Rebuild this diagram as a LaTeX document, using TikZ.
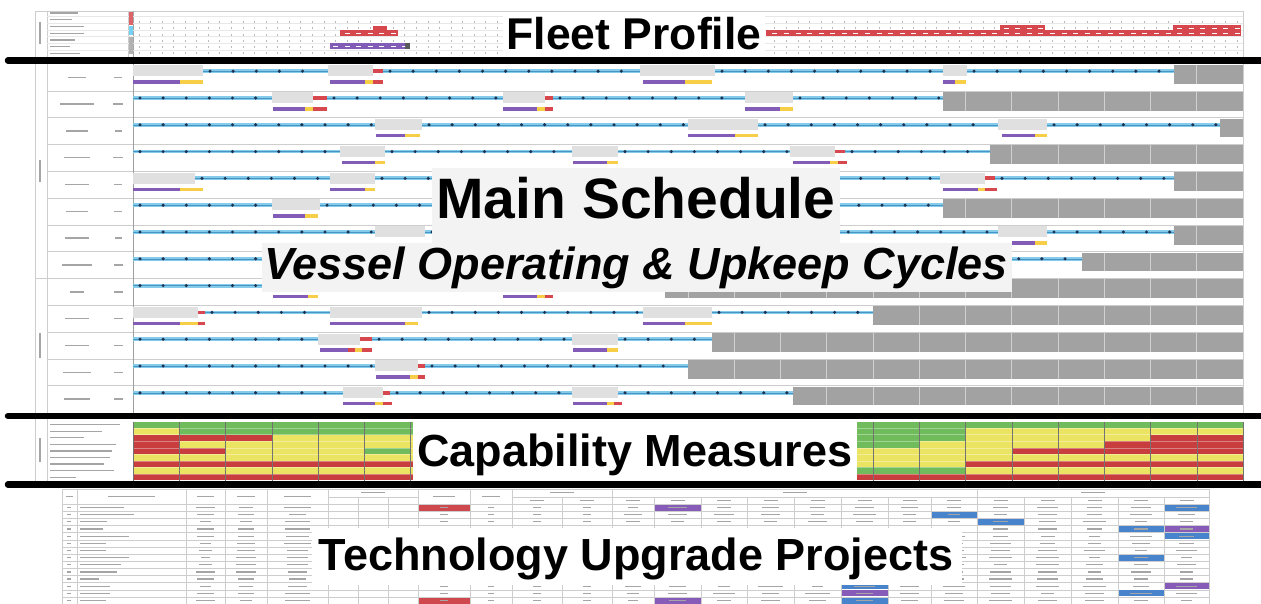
\documentclass[tikz,border=0pt]{standalone}
\usepackage{fontspec}
\setmainfont{Liberation Sans}

% palette
\definecolor{opblue}{RGB}{135,203,234}
\definecolor{opline}{RGB}{70,150,200}
\definecolor{opdot}{RGB}{30,50,80}
\definecolor{mntgray}{RGB}{224,224,224}
\definecolor{decom}{RGB}{162,162,162}
\definecolor{upp}{RGB}{130,92,182}
\definecolor{upy}{RGB}{246,206,72}
\definecolor{upr}{RGB}{214,72,78}
\definecolor{capg}{RGB}{112,188,92}
\definecolor{capy}{RGB}{234,228,98}
\definecolor{capr}{RGB}{200,62,62}
\definecolor{cellblue}{RGB}{72,132,204}
\definecolor{cellpurple}{RGB}{134,92,184}
\definecolor{cellred}{RGB}{206,72,78}
\definecolor{ink}{RGB}{165,165,165}
\definecolor{rule}{RGB}{205,205,205}
\definecolor{boxbg}{RGB}{243,243,243}

% operating period: blue band with dots (row top, x from, x to)
\newcommand\opseg[3]{%
  \fill[opblue] (#2,#1+5.3) rectangle (#3,#1+9.1);
  \draw[opline,line width=0.5pt] (#2,#1+7.2) -- (#3,#1+7.2);
  \pgfmathtruncatemacro\nd{(#3-#2-10)/23.125}%
  \ifnum\nd>-1
    \foreach \kk in {0,...,\nd}{\fill[opdot] ({#2+7+23.125*\kk},#1+7.2) circle (1.7);}%
  \fi}
% maintenance window
\newcommand\mntseg[3]{\fill[mntgray] (#2,#1+1.5) rectangle (#3,#1+12.5);}
% red marker on the operating line
\newcommand\redtop[3]{\fill[upr] (#2,#1+5.3) rectangle (#3,#1+9.1);}
% upkeep bar in the lower half of a row
\newcommand\lowbar[4]{\fill[#4] (#2,#1+16.4) rectangle (#3,#1+19.8);}
% out of service to the end of the horizon
\newcommand\retired[2]{%
  \fill[decom] (#2,#1+1) rectangle (1243,#1+19.8);
  \foreach \kk in {1,...,23}{%
    \pgfmathsetmacro\gx{133+46.25*\kk}%
    \ifdim\gx pt>#2pt
      \draw[white,opacity=0.5,line width=0.7pt] (\gx,#1+1) -- (\gx,#1+19.8);
    \fi}}
% coloured cell of the project table (row, x from, x to, colour)
\newcommand\tcell[4]{\fill[#4] (#2+0.5,{504+7.15*(#1-1)+0.6}) rectangle (#3-0.5,{504+7.15*#1-0.6});}

\begin{document}
\begin{tikzpicture}[x=1pt,y=-1pt,
  heading/.style={inner sep=0pt, anchor=base, text=black},
  divider/.style={line width=6.5pt, line cap=round, black}]
\useasboundingbox (0,0) rectangle (1261,604);
\fill[white] (0,0) rectangle (1261,604);

%% ---------------- fleet profile ----------------
\draw[rule] (35,11) rectangle (1243,58);
\draw[rule] (47,11) -- (47,58);
\draw[rule] (128,11) -- (128,58);
\draw[gray!70] (133,11) -- (133,58);
\foreach \yy in {16,23,30,36.6,43.3,50}{\draw[gray!18] (47,\yy) -- (1243,\yy);}
\foreach \yy/\w in {12.9/28,19.5/22,26.7/34,33.3/34,40/25,46.7/20,53.3/30}
  {\fill[ink] (50,\yy-0.7) rectangle (50+\w,\yy+0.7);}
\fill[ink] (39.3,22) rectangle (40.8,44);
\fill[upr!85] (128.6,12) rectangle (132.6,25);
\fill[cyan!55] (128.6,26.5) rectangle (132.6,35.5);
\fill[gray!60] (128.6,37) rectangle (132.6,54);
\foreach \kk in {0,...,95}{%
  \pgfmathsetmacro\tx{139+11.5625*\kk}%
  \foreach \ty in {22,28.5,35,41.5,47.5,53}{\fill[gray!55] (\tx-0.5,\ty-1) rectangle (\tx+0.5,\ty+1);}}
\fill[upr] (340,30.5) rectangle (398,36.5);
\fill[upr] (373,26) rectangle (387,31);
\fill[upr] (766,30.5) rectangle (1241,36.5);
\fill[upr] (1000,25.5) rectangle (1045,31);
\fill[upr] (1173,25.5) rectangle (1241,31);
\fill[upp] (330,43) rectangle (410,49);
\fill[gray!70!black] (405,43) rectangle (410,49);
\begin{scope}
  \clip (340,30.5) rectangle (398,36.5) (766,30.5) rectangle (1241,36.5)
        (1000,25.5) rectangle (1045,30.5) (1173,25.5) rectangle (1241,30.5)
        (330,43) rectangle (405,49);
  \foreach \kk in {0,...,95}{%
    \pgfmathsetmacro\tx{139+11.5625*\kk}%
    \draw[white,line width=0.9pt] (\tx-2.5,33.5) -- (\tx+2.5,33.5) (\tx-2.5,28) -- (\tx+2.5,28)
      (\tx-2.5,46) -- (\tx+2.5,46);}
\end{scope}
\fill[white] (503,13) rectangle (765,56);
\node[heading, font=\bfseries\fontsize{44.5}{48}\selectfont] (fleet) at (634,50) {Fleet Profile};

%% ---------------- main schedule ----------------
\draw[rule] (35,64) -- (35,413);
\draw[rule] (47,64) -- (47,413);
\draw[rule] (1243,64) -- (1243,413);
\foreach \rt in {90.8,117.6,144.4,171.2,198,224.8,251.6,305.2,332,358.8,385.6}
  {\draw[rule] (47,\rt) -- (1243,\rt);}
\draw[rule] (35,278.4) -- (1243,278.4);
\draw[gray!75] (133,64) -- (133,413);
\fill[ink] (39.3,160) rectangle (40.8,182);
\fill[ink] (39.3,333) rectangle (40.8,358);
\foreach \rt/\w/\c in {64/18/8,90.8/34/10,117.6/22/7,144.4/26/10,171.2/24/8,198/22/8,224.8/24/7,
  251.6/30/9,278.4/14/9,305.2/24/9,332/24/9,358.8/28/9,385.6/26/9}
  {\fill[ink] (77-\w/2,\rt+12.7) rectangle (77+\w/2,\rt+14.1);
   \fill[ink] (118-\c/2,\rt+12.7) rectangle (118+\c/2,\rt+14.1);}

% row 1
\mntseg{64}{133}{203}\opseg{64}{203}{328}\mntseg{64}{328}{373}\redtop{64}{373}{383}
\opseg{64}{383}{640}\mntseg{64}{640}{715}\opseg{64}{715}{943}\mntseg{64}{943}{967}\opseg{64}{967}{1174}
\lowbar{64}{133}{180}{upp}\lowbar{64}{180}{203}{upy}\lowbar{64}{330}{365}{upp}\lowbar{64}{365}{373}{upy}
\lowbar{64}{373}{383}{upr}\lowbar{64}{643}{685}{upp}\lowbar{64}{685}{712}{upy}\lowbar{64}{943}{955}{upp}
\lowbar{64}{955}{966}{upy}
\retired{64}{1174}
% row 2
\opseg{90.8}{133}{272}\mntseg{90.8}{272}{313}\redtop{90.8}{313}{327}\opseg{90.8}{327}{503}
\mntseg{90.8}{503}{545}\redtop{90.8}{545}{553}\opseg{90.8}{553}{745}\mntseg{90.8}{745}{793}\opseg{90.8}{793}{943}
\lowbar{90.8}{273}{305}{upp}\lowbar{90.8}{305}{313}{upy}\lowbar{90.8}{313}{327}{upr}\lowbar{90.8}{503}{537}{upp}
\lowbar{90.8}{537}{545}{upy}\lowbar{90.8}{545}{553}{upr}\lowbar{90.8}{745}{780}{upp}\lowbar{90.8}{780}{793}{upy}
\retired{90.8}{943}
% row 3
\opseg{117.6}{133}{375}\mntseg{117.6}{375}{422}\opseg{117.6}{422}{688}\mntseg{117.6}{688}{758}
\opseg{117.6}{758}{998}\mntseg{117.6}{998}{1047}\opseg{117.6}{1047}{1220}
\lowbar{117.6}{376}{405}{upp}\lowbar{117.6}{405}{420}{upy}\lowbar{117.6}{688}{735}{upp}\lowbar{117.6}{735}{758}{upy}
\lowbar{117.6}{1002}{1035}{upp}\lowbar{117.6}{1035}{1047}{upy}
\retired{117.6}{1220}
% row 4
\opseg{144.4}{133}{340}\mntseg{144.4}{340}{385}\opseg{144.4}{385}{572}\mntseg{144.4}{572}{618}
\opseg{144.4}{618}{790}\mntseg{144.4}{790}{835}\redtop{144.4}{835}{845}\opseg{144.4}{845}{990}
\lowbar{144.4}{342}{375}{upp}\lowbar{144.4}{375}{385}{upy}\lowbar{144.4}{573}{607}{upp}\lowbar{144.4}{607}{618}{upy}
\lowbar{144.4}{793}{830}{upp}\lowbar{144.4}{830}{838}{upy}\lowbar{144.4}{838}{847}{upr}
\retired{144.4}{990}
% row 5
\mntseg{171.2}{133}{195}\opseg{171.2}{195}{330}\mntseg{171.2}{330}{375}\opseg{171.2}{375}{640}
\mntseg{171.2}{640}{715}\opseg{171.2}{715}{940}\mntseg{171.2}{940}{985}\redtop{171.2}{985}{995}\opseg{171.2}{995}{1174}
\lowbar{171.2}{133}{180}{upp}\lowbar{171.2}{180}{203}{upy}\lowbar{171.2}{330}{365}{upp}\lowbar{171.2}{365}{375}{upy}
\lowbar{171.2}{943}{978}{upp}\lowbar{171.2}{978}{985}{upy}\lowbar{171.2}{985}{997}{upr}
\retired{171.2}{1174}
% row 6
\opseg{198}{133}{272}\mntseg{198}{272}{320}\opseg{198}{320}{943}
\lowbar{198}{273}{305}{upp}\lowbar{198}{305}{318}{upy}
\retired{198}{943}
% row 7
\opseg{224.8}{133}{375}\mntseg{224.8}{375}{425}\opseg{224.8}{425}{998}\mntseg{224.8}{998}{1047}\opseg{224.8}{1047}{1174}
\lowbar{224.8}{1012}{1035}{upp}\lowbar{224.8}{1035}{1047}{upy}
\retired{224.8}{1174}
% row 8
\opseg{251.6}{133}{1082}
\retired{251.6}{1082}
% row 9
\opseg{278.4}{133}{650}
\lowbar{278.4}{273}{308}{upp}\lowbar{278.4}{308}{318}{upy}\lowbar{278.4}{503}{537}{upp}
\lowbar{278.4}{537}{545}{upy}\lowbar{278.4}{545}{553}{upr}
\retired{278.4}{665}
% row 10
\mntseg{305.2}{133}{198}\redtop{305.2}{198}{205}\opseg{305.2}{205}{330}\mntseg{305.2}{330}{422}
\opseg{305.2}{422}{643}\mntseg{305.2}{643}{712}\opseg{305.2}{712}{873}
\lowbar{305.2}{133}{180}{upp}\lowbar{305.2}{180}{198}{upy}\lowbar{305.2}{198}{205}{upr}\lowbar{305.2}{330}{405}{upp}
\lowbar{305.2}{405}{418}{upy}\lowbar{305.2}{643}{685}{upp}\lowbar{305.2}{685}{712}{upy}
\retired{305.2}{873}
% row 11
\opseg{332}{133}{318}\mntseg{332}{318}{360}\redtop{332}{360}{372}\opseg{332}{372}{572}
\mntseg{332}{572}{618}\opseg{332}{618}{712}
\lowbar{332}{320}{348}{upp}\lowbar{332}{348}{355}{upr}\lowbar{332}{355}{362}{upy}\lowbar{332}{362}{372}{upr}
\lowbar{332}{573}{607}{upp}\lowbar{332}{607}{618}{upy}
\retired{332}{712}
% row 12
\opseg{358.8}{133}{375}\mntseg{358.8}{375}{418}\redtop{358.8}{418}{425}\opseg{358.8}{425}{688}
\lowbar{358.8}{376}{410}{upp}\lowbar{358.8}{410}{418}{upy}\lowbar{358.8}{418}{425}{upr}
\retired{358.8}{688}
% row 13
\opseg{385.6}{133}{343}\mntseg{385.6}{343}{383}\redtop{385.6}{383}{390}\opseg{385.6}{390}{572}
\mntseg{385.6}{572}{618}\opseg{385.6}{618}{793}
\lowbar{385.6}{343}{375}{upp}\lowbar{385.6}{375}{383}{upy}\lowbar{385.6}{383}{392}{upr}
\lowbar{385.6}{573}{607}{upp}\lowbar{385.6}{607}{614}{upy}\lowbar{385.6}{614}{622}{upr}
\retired{385.6}{793}

\fill[boxbg] (432,168) rectangle (840,243);
\fill[boxbg] (262,243) rectangle (1012,292);
\node[heading, font=\bfseries\fontsize{57}{60}\selectfont] (main) at (636,219) {Main Schedule};
\node[heading, font=\bfseries\itshape\fontsize{45}{48}\selectfont] (cycles) at (636,279) {Vessel Operating \& Upkeep Cycles};

%% ---------------- capability measures ----------------
\draw[rule] (35,419) -- (35,481);
\draw[rule] (47,419) -- (47,481);
\fill[ink] (39.3,438) rectangle (40.8,462);
\foreach \cr/\w in {1/70,2/52,3/34,4/66,5/62,6/60,7/54,8/64,9/26}
  {\fill[ink] (50,{421.5+6.55*(\cr-0.5)-0.6}) rectangle (50+\w,{421.5+6.55*(\cr-0.5)+0.6});}
\foreach \row [count=\cr] in {
  {g,g,g,g,g,g,g,g,g,g,g,g,g,g,g,g,g,g,g,g,g,g,g,g},
  {y,g,g,g,g,g,g,g,g,g,g,g,g,g,g,g,g,g,y,y,y,y,y,y},
  {r,r,r,y,y,y,y,y,y,y,y,y,y,y,y,g,g,g,y,y,y,y,r,r},
  {r,y,y,y,y,y,y,y,y,y,y,y,y,y,y,g,g,y,y,y,y,r,r,r},
  {r,r,y,y,y,g,y,y,y,y,y,y,y,y,y,y,y,y,y,r,r,r,r,r},
  {y,y,y,y,y,y,y,y,y,y,y,y,y,y,y,y,y,y,y,y,y,y,y,y},
  {r,r,r,r,r,r,r,r,r,r,r,r,r,r,r,y,y,y,r,r,r,r,r,r},
  {y,y,y,y,y,y,y,y,y,y,y,y,y,y,y,g,g,g,y,y,y,y,y,y},
  {r,r,r,r,r,r,r,r,r,r,r,r,r,r,r,r,r,r,r,r,r,r,r,r}}{%
  \foreach \cc [count=\ci] in \row{%
    \fill[cap\cc] ({133+46.25*(\ci-1)},{421.5+6.55*(\cr-1)}) rectangle ({133+46.25*\ci},{421.5+6.55*\cr});}}
\foreach \cr in {1,...,8}{\draw[white,opacity=0.35,line width=0.4pt] (133,{421.5+6.55*\cr}) -- (1243,{421.5+6.55*\cr});}
\foreach \kk in {0,...,24}{\draw[black!55,line width=0.4pt] ({133+46.25*\kk},421.5) -- ({133+46.25*\kk},480.5);}
\fill[white] (413,420) rectangle (857,481);
\node[heading, font=\bfseries\fontsize{45}{48}\selectfont] (capability) at (635,466) {Capability Measures};

%% ---------------- technology upgrade projects ----------------
\foreach \xx in {62,77,186,225,267,328,418,470,512,612,977,1209}{\draw[rule] (\xx,489) -- (\xx,604);}
\foreach \xx in {358,388,562,654,701,747,794,841,888,931,1024,1071,1118,1164}{\draw[rule] (\xx,497) -- (\xx,604);}
\draw[rule] (62,489) -- (1209,489);
\draw[rule] (328,497) -- (418,497) (512,497) -- (1209,497);
\foreach \kk in {0,...,13}{\draw[rule] (62,{504+7.15*\kk}) -- (1209,{504+7.15*\kk});}
% header captions
\foreach \xa/\xb in {62/77,77/186,186/225,225/267,267/328,418/470,470/512}
  {\fill[ink] ({(\xa+\xb)/2-(\xb-\xa)*0.22},495.8) rectangle ({(\xa+\xb)/2+(\xb-\xa)*0.22},497.2);}
\foreach \xa/\xb in {328/418,512/612,612/977,977/1209}
  {\fill[ink] ({(\xa+\xb)/2-12},492.2) rectangle ({(\xa+\xb)/2+12},493.4);}
\foreach \xa/\xb in {512/562,562/612,612/654,654/701,701/747,747/794,794/841,841/888,888/931,931/977,977/1024,1024/1071,1071/1118,1118/1164,1164/1209}
  {\fill[ink] ({(\xa+\xb)/2-7},500.2) rectangle ({(\xa+\xb)/2+7},501.4);}
% coloured cells
\tcell{1}{418}{470}{cellred}\tcell{1}{654}{701}{cellpurple}\tcell{1}{1164}{1209}{cellblue}
\tcell{2}{931}{977}{cellblue}
\tcell{3}{977}{1024}{cellblue}
\tcell{4}{1118}{1164}{cellblue}\tcell{4}{1164}{1209}{cellpurple}
\tcell{5}{1164}{1209}{cellblue}
\tcell{8}{1118}{1164}{cellblue}
\tcell{11}{841}{888}{cellblue}\tcell{12}{841}{888}{cellblue}\tcell{13}{841}{888}{cellpurple}\tcell{14}{841}{888}{cellblue}
\tcell{12}{1164}{1209}{cellpurple}\tcell{13}{1118}{1164}{cellblue}
\tcell{14}{654}{701}{cellpurple}\tcell{14}{418}{470}{cellred}
% cell entries
\pgfmathsetseed{11}
\foreach \rr in {1,...,14}{%
  \pgfmathsetmacro\ry{504+7.15*\rr-3.6}%
  \fill[ink] (67,\ry-0.6) rectangle (71,\ry+0.6);
  \pgfmathsetmacro\nw{18+40*rnd}%
  \fill[ink] (80,\ry-0.6) rectangle (80+\nw,\ry+0.6);
  \foreach \xa/\xb in {186/225,225/267,267/328,612/654,654/701,701/747,747/794,794/841,841/888,888/931,931/977,977/1024,1024/1071,1071/1118,1118/1164,1164/1209}{%
    \pgfmathsetmacro\hw{(\xb-\xa)*(0.12+0.14*rnd)}%
    \fill[ink] ({(\xa+\xb)/2-\hw},\ry-0.6) rectangle ({(\xa+\xb)/2+\hw},\ry+0.6);}
  \ifnum\rr<4 \def\sparse{1}\else\ifnum\rr>10 \def\sparse{1}\else\def\sparse{0}\fi\fi
  \ifnum\sparse=1
    \foreach \xa/\xb in {418/470,470/512,512/562,562/612}{%
      \pgfmathsetmacro\hw{(\xb-\xa)*0.08}%
      \fill[ink] ({(\xa+\xb)/2-\hw},\ry-0.6) rectangle ({(\xa+\xb)/2+\hw},\ry+0.6);}
  \fi}
\fill[white] (312,528) rectangle (962,585);
\node[heading, font=\bfseries\fontsize{45}{48}\selectfont] (upgrades) at (636,570) {Technology Upgrade Projects};

%% ---------------- section dividers ----------------
\draw[divider] (8,60.5) -- (1268,60.5);
\draw[divider] (8,416) -- (1268,416);
\draw[divider] (8,484.5) -- (1268,484.5);
\end{tikzpicture}
\end{document}
